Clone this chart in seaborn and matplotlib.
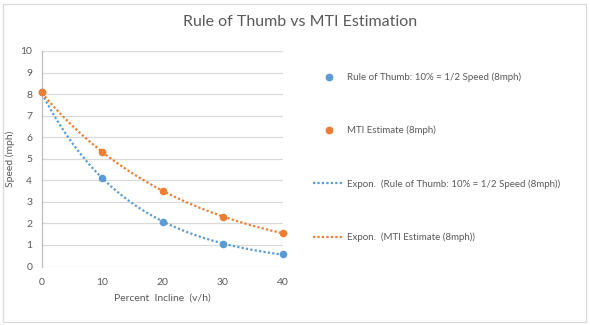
import numpy as np
import pandas as pd
import matplotlib
matplotlib.use("Agg")
import matplotlib.pyplot as plt
from matplotlib.lines import Line2D
from matplotlib.patches import Rectangle
import seaborn as sns

# Data
incline = [0, 10, 20, 30, 40]
rule_of_thumb = [8.1, 4.1, 2.08, 1.05, 0.56]
mti_estimate = [8.1, 5.3, 3.5, 2.31, 1.55]
y_ticks = list(range(0, 11))
x_ticks = [0, 10, 20, 30, 40]

label_rot = "Rule of Thumb: 10% = 1/2 Speed (8mph)"
label_mti = "MTI Estimate (8mph)"
title = "Rule of Thumb vs MTI Estimation"

BLUE = "#5B9BD5"
ORANGE = "#ED7D31"
TEXT = "#595959"
GRID = "#D9D9D9"

sns.set_theme(style="white")
plt.rcParams["font.family"] = ["Lato", "DejaVu Sans"]

fig = plt.figure(figsize=(5.9, 3.25), dpi=100)
W, H = 590, 325
ax = fig.add_axes([42 / W, 1 - 266.5 / H, (283 - 42) / W, (266.5 - 51) / H])

df = pd.DataFrame({"x": incline, "rot": rule_of_thumb, "mti": mti_estimate})


def expon_fit(x, y):
    # least squares on ln(y), same as a spreadsheet exponential trendline
    b, ln_a = np.polyfit(np.asarray(x, float), np.log(np.asarray(y, float)), 1)
    xs = np.linspace(min(x), max(x), 200)
    return pd.DataFrame({"x": xs, "y": np.exp(ln_a) * np.exp(b * xs)})


dotted = (0, (1, 1))
for col, color in [("rot", BLUE), ("mti", ORANGE)]:
    fit = expon_fit(df["x"], df[col])
    sns.lineplot(data=fit, x="x", y="y", ax=ax, color=color, lw=1.6,
                 linestyle=dotted, legend=False)

for col, color in [("rot", BLUE), ("mti", ORANGE)]:
    sns.scatterplot(data=df, x="x", y=col, ax=ax, color=color, s=30,
                    edgecolor=color, linewidth=0, legend=False, zorder=5,
                    clip_on=False)

ax.set_xlim(0, 40)
ax.set_ylim(0, 10)
ax.set_xticks(x_ticks)
ax.set_yticks(y_ticks)
ax.yaxis.grid(True, color=GRID, lw=0.9)
ax.xaxis.grid(False)
for s in ["top", "right", "bottom"]:
    ax.spines[s].set_visible(False)
ax.spines["left"].set_color("#BFBFBF")
ax.spines["left"].set_linewidth(0.9)
ax.tick_params(axis="both", length=0, labelsize=7.5, colors=TEXT)
ax.tick_params(axis="y", pad=7)
ax.tick_params(axis="x", pad=8)
ax.set_xlabel("Percent  Incline  (v/h)", fontsize=7.5, color=TEXT, labelpad=5)
ax.set_ylabel("Speed (mph)", fontsize=7.5, color=TEXT, labelpad=4)

fig.text(300 / W, 1 - 22 / H, title, ha="center", va="center",
         fontsize=11.5, color=TEXT)

handles = [
    Line2D([], [], ls="none", marker="o", ms=4.6, color=BLUE, mec=BLUE),
    Line2D([], [], ls="none", marker="o", ms=4.6, color=ORANGE, mec=ORANGE),
    Line2D([], [], ls=dotted, lw=1.6, color=BLUE),
    Line2D([], [], ls=dotted, lw=1.6, color=ORANGE),
]
labels = [label_rot, label_mti,
          f"Expon.  ({label_rot})", f"Expon.  ({label_mti})"]
leg = fig.legend(handles, labels, loc="upper left",
                 bbox_to_anchor=(313 / W, 1 - 72.5 / H), frameon=False,
                 fontsize=7, handlelength=3.2, handletextpad=0.3,
                 labelspacing=4.5, borderpad=0, borderaxespad=0)
for t in leg.get_texts():
    t.set_color(TEXT)

fig.patches.append(Rectangle((2.5 / W, 3.5 / H), 583.5 / W, 318 / H,
                             transform=fig.transFigure, fill=False,
                             ec="#D9D9D9", lw=0.9))

fig.savefig("out.png", dpi=100, facecolor="white")
